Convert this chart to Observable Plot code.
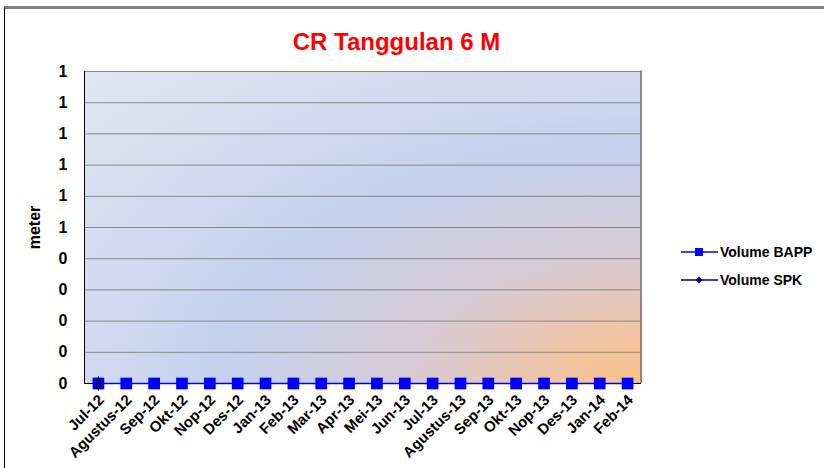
<!DOCTYPE html>
<html><head><meta charset="utf-8">
<script src="https://cdn.jsdelivr.net/npm/d3@7"></script>
<script src="https://cdn.jsdelivr.net/npm/@observablehq/plot@0.6"></script>
<style>
body{margin:0;background:#fff;font-family:"Liberation Sans",Arial,sans-serif;}
#wrap{position:relative;width:824px;height:468px;overflow:hidden;}
#chart{position:absolute;left:0;top:0;}
#border{position:absolute;left:4px;top:6px;width:900px;height:600px;border-top:3px solid #808080;border-left:1px solid #000;pointer-events:none;}
#title{position:absolute;left:0;top:30px;width:793px;text-align:center;color:#ff0000;font-weight:bold;font-size:24px;line-height:24px;}
.leg{position:absolute;left:681px;height:16px;font-weight:bold;font-size:14px;line-height:16px;display:flex;align-items:center;color:#000;}
.leg svg{margin-right:2px;}
</style></head><body>
<div id="wrap"><div id="chart"></div><div id="border"></div><div id="title"></div><div id="legend"></div></div>
<script>
const titleText = "CR Tanggulan 6 M";
const yLabel = "meter";
const months = ["Jul-12","Agustus-12","Sep-12","Okt-12","Nop-12","Des-12","Jan-13","Feb-13","Mar-13","Apr-13","Mei-13","Jun-13","Jul-13","Agustus-13","Sep-13","Okt-13","Nop-13","Des-13","Jan-14","Feb-14"];
const volumeBAPP = [0,0,0,0,0,0,0,0,0,0,0,0,0,0,0,0,0,0,0,0];
const volumeSPK = [0,null,null,null,null,null,null,null,null,null,null,null,null,null,null,null,null,null,null,null];
const yTicks = [0,0.1,0.2,0.3,0.4,0.5,0.6,0.7,0.8,0.9,1];
const yTickLabels = ["0","0","0","0","0","1","1","1","1","1","1"];
const seriesNames = ["Volume BAPP","Volume SPK"];

const bappData = months.map((m,i)=>({month:m, value:volumeBAPP[i]}));
const spkData = months.map((m,i)=>({month:m, value:volumeSPK[i]})).filter(d=>d.value!=null);

function background(index, scales, values, dim) {
  const x0 = dim.marginLeft, x1 = dim.width - dim.marginRight;
  const y0 = dim.marginTop, y1 = dim.height - dim.marginBottom;
  const g = d3.create("svg:g");
  const grad = g.append("defs").append("radialGradient")
    .attr("id","bgGrad").attr("gradientUnits","objectBoundingBox")
    .attr("cx", 1).attr("cy", 1).attr("r", 1.414);
  [[0,"#f9c08a"],[0.08,"#f5c399"],[0.18,"#e6c6b8"],[0.3,"#d6cbd6"],[0.53,"#c3d1ee"],[0.68,"#d0d9f0"],[1,"#e0e6f3"]]
    .forEach(([o,c])=>grad.append("stop").attr("offset",o).attr("stop-color",c));
  g.append("rect").attr("x",x0).attr("y",y0).attr("width",x1-x0).attr("height",y1-y0).attr("fill","url(#bgGrad)");
  return g.node();
}
function edges(index, scales, values, dim) {
  const x0 = dim.marginLeft, x1 = dim.width - dim.marginRight;
  const y0 = dim.marginTop, y1 = dim.height - dim.marginBottom;
  const g = d3.create("svg:g");
  g.append("line").attr("x1",x1).attr("x2",x1).attr("y1",y0-0.5).attr("y2",y1).attr("stroke","#888").attr("stroke-width",2);
  g.append("line").attr("x1",x0+0.5).attr("x2",x0+0.5).attr("y1",y0).attr("y2",y1).attr("stroke","#000").attr("stroke-width",1);
  return g.node();
}

const chart = Plot.plot({
  width: 824,
  height: 468,
  marginLeft: 84,
  marginRight: 183,
  marginTop: 71,
  marginBottom: 85,
  style: {background: "transparent", fontFamily: "'Liberation Sans', Arial, sans-serif", color: "#000"},
  x: {type: "point", domain: months, padding: 0.5, round: false},
  y: {domain: [0, 1]},
  marks: [
    background,
    Plot.gridY(yTicks, {stroke: "#888", strokeOpacity: 1, strokeWidth: 1}),
    edges,
    Plot.ruleY([0], {stroke: "#000", strokeWidth: 1}),
    Plot.axisY(yTicks, {
      tickFormat: d => yTickLabels[yTicks.indexOf(d)],
      tickSize: 0, tickPadding: 17, fontSize: 16, fontWeight: "bold",
      label: yLabel, labelAnchor: "center", labelOffset: 56, labelArrow: "none"
    }),
    Plot.axisX({tickRotate: -45, tickSize: 0, tickPadding: 14, dx: 3, fontSize: 15, fontWeight: "bold", label: null}),
    Plot.line(bappData, {x: "month", y: "value", stroke: "#0000ff", strokeWidth: 1.5}),
    Plot.dot(bappData, {x: "month", y: "value", symbol: "square", r: 6.6, fill: "#0000ff", stroke: "none"}),
    Plot.line(spkData, {x: "month", y: "value", stroke: "#000080", strokeWidth: 1.5}),
    Plot.dot(spkData, {x: "month", y: "value", symbol: "diamond", r: 4.5, fill: "#000080", stroke: "none"})
  ]
});
document.getElementById("chart").appendChild(chart);
document.getElementById("title").textContent = titleText;

const legend = document.getElementById("legend");
const legColors = ["#0000ff","#000080"];
const legTops = [244, 272];
seriesNames.forEach((name,i)=>{
  const div = document.createElement("div");
  div.className = "leg";
  div.style.top = legTops[i] + "px";
  const marker = i === 0
    ? `<rect x="14" y="4" width="8" height="8" fill="${legColors[i]}"/>`
    : `<path d="M18,4.5 L21.5,8 L18,11.5 L14.5,8 Z" fill="${legColors[i]}"/>`;
  div.innerHTML = `<svg width="37" height="16"><line x1="0" x2="37" y1="8" y2="8" stroke="${legColors[i]}" stroke-width="1.5"/>${marker}</svg><span></span>`;
  div.querySelector("span").textContent = name;
  legend.appendChild(div);
});
</script>
</body></html>
